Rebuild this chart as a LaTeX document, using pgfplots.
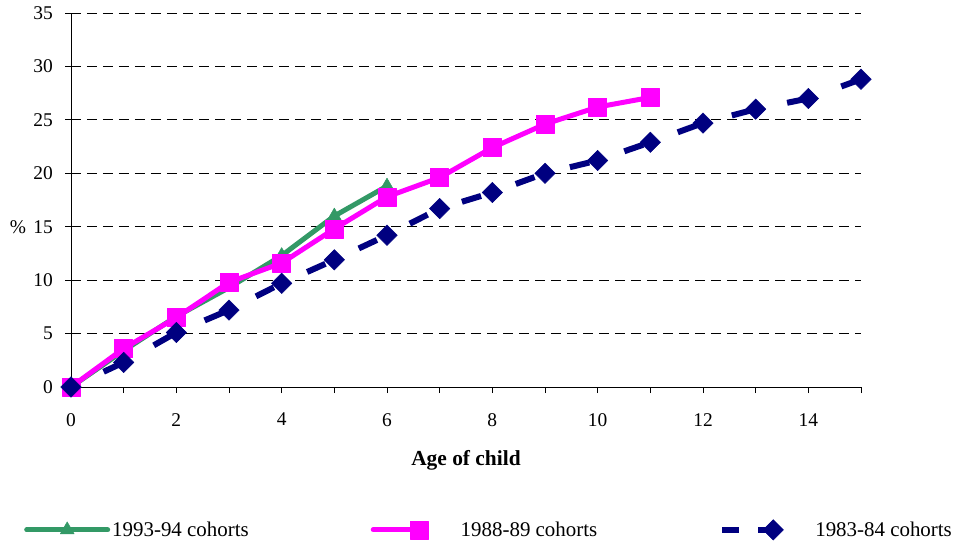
\documentclass[border=0pt]{standalone}
\usepackage{fontspec}
\setmainfont{Liberation Serif}
\usepackage{pgfplots}
\pgfplotsset{compat=1.18}
\definecolor{sgreen}{HTML}{339966}
\definecolor{magen}{HTML}{FF00FF}
\definecolor{navyb}{HTML}{000080}
\begin{document}
\begin{tikzpicture}
\path[use as bounding box] (-71bp,-158bp) rectangle (890bp,387bp);
\begin{axis}[
  scale only axis,
  width=790bp, height=374bp,
  xmin=0, xmax=15, ymin=0, ymax=35,
  clip=false,
  axis x line=bottom, axis y line=left,
  axis line style={-, black, line width=0.8bp},
  xtick={0,...,15},
  xticklabels={0,,2,,4,,6,,8,,10,,12,,14,},
  ytick={0,5,...,35},
  tick align=outside,
  major tick length=6bp,
  tick style={black, line width=0.8bp},
  /pgf/number format/assume math mode=true,
  ticklabel style={font=\fontsize{19.5}{22}\selectfont},
  yticklabel style={inner xsep=0pt, xshift=-12bp},
  xticklabel style={inner ysep=0pt, yshift=-20bp},
  ymajorgrids,
  major grid style={black, line width=0.8bp, dash pattern=on 10bp off 6bp},
  xlabel={Age of child},
  xlabel style={at={(axis description cs:0.5,-0.195)}, anchor=center, font=\fontsize{21.5}{24}\selectfont\bfseries},
  ylabel={\%},
  ylabel style={at={(axis description cs:-0.067,0.428)}, rotate=-90, anchor=center, font=\fontsize{19.5}{22}\selectfont},
  legend columns=3,
  legend style={at={(axis description cs:-0.0595,-0.382)}, anchor=west, draw=none, fill=none,
    inner sep=0pt, font=\fontsize{21}{24}\selectfont,
    nodes={inner xsep=2bp, inner ysep=0pt},
    /tikz/every even column/.append style={column sep=120bp},
    /tikz/every odd column/.append style={column sep=0pt}},
  legend cell align=left,
]
\addplot[color=sgreen, line width=5bp, line cap=round, line join=round,
  mark=triangle*, mark size=8bp, mark options={solid, line width=0.5bp},
  legend image code/.code={
    \draw[mark repeat=2,mark phase=2] plot coordinates {(0bp,0bp) (40.5bp,0bp) (81bp,0bp)};
  }]
  coordinates {(0,0) (1,3.4) (2,6.6) (3,9.3) (4,12.3) (5,16.0) (6,18.8)};
\addlegendentry{1993-94 cohorts}
\addplot[color=magen, line width=5bp, line cap=round, line join=round,
  mark=square*, mark size=9bp, mark options={solid, line width=0.5bp},
  legend image code/.code={
    \draw[mark repeat=2,mark phase=2] plot coordinates {(0bp,0bp) (46bp,0bp)};
    \path (87bp,0bp);
  }]
  coordinates {(0,0) (1,3.6) (2,6.5) (3,9.8) (4,11.6) (5,14.8) (6,17.8) (7,19.6) (8,22.4) (9,24.6) (10,26.2) (11,27.1)};
\addlegendentry{\hspace{-4bp}1988-89 cohorts}
\addplot[color=navyb, line width=6bp, dash pattern=on 20bp off 36.73bp, dash phase=20.73bp,
  mark=square*, mark size=7.2bp, mark options={solid, rotate=45, line width=0.5bp},
  legend image code/.code={
    \draw[dash pattern=on 17bp off 80bp, dash phase=0bp] (3bp,0bp) -- (60bp,0bp);
    \draw[mark repeat=2,mark phase=2] plot coordinates {(3bp,0bp) (54bp,0bp)};
    \path (91bp,0bp);
  }]
  coordinates {(0,0) (1,2.3) (2,5.1) (3,7.2) (4,9.7) (5,11.9) (6,14.2) (7,16.7) (8,18.2) (9,20.0) (10,21.2) (11,22.9) (12,24.7) (13,26.0) (14,27.0) (15,28.8)};
\addlegendentry{1983-84 cohorts}
\end{axis}
\end{tikzpicture}
\end{document}
